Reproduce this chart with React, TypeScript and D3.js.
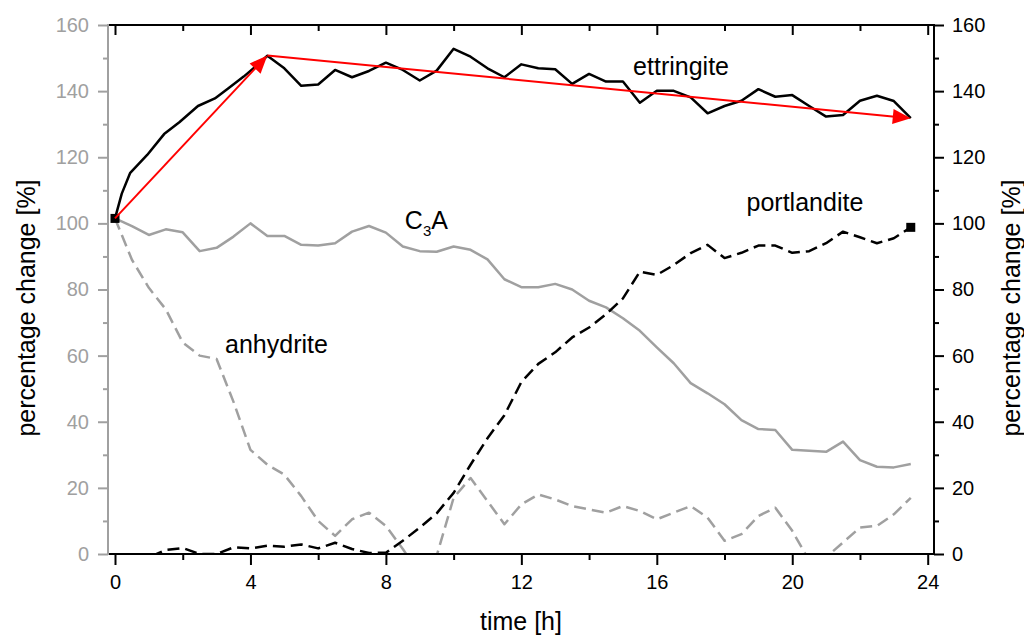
import { useEffect, useRef } from 'react';
import * as d3 from 'd3';

// time grid (h) shared by C3A, anhydrite and portlandite
const hours = [
  0, 0.5, 1, 1.5, 2, 2.5, 3, 3.5, 4, 4.5, 5, 5.5, 6, 6.5, 7, 7.5, 8, 8.5, 9, 9.5, 10, 10.5, 11, 11.5,
  12, 12.5, 13, 13.5, 14, 14.5, 15, 15.5, 16, 16.5, 17, 17.5, 18, 18.5, 19, 19.5, 20, 20.5, 21, 21.5,
  22, 22.5, 23, 23.5,
];

const c3a = [
  101.5, 99.2, 96.5, 98.2, 97.3, 91.6, 92.6, 96, 100, 96.2, 96.2, 93.5, 93.3, 94, 97.5, 99.2, 97.2, 93,
  91.6, 91.4, 93, 92, 89.1, 83.1, 80.7, 80.7, 81.7, 80, 76.6, 74.6, 71.3, 67.5, 62.5, 57.7, 51.7, 48.6,
  45.3, 40.5, 37.8, 37.5, 31.5, 31.2, 30.9, 34, 28.4, 26.4, 26.2, 27.2,
];

const anhydrite = [
  101.5, 89, 80.5, 74, 64, 60, 59, 46, 31.5, 27, 24, 17.5, 10, 5.5, 10.5, 12.5, 8.5, 1.5, -6, -0.5, 17,
  23, 16, 9, 15, 18, 16.5, 14.5, 13.5, 12.5, 14.5, 13, 10.5, 12.5, 14.5, 11, 4, 6, 11.5, 14, 7, -2, -1,
  3.5, 8, 8.5, 12, 17,
];

const portlandite = [
  -1, -1, -1, 1.2, 1.8, 0, 0, 2, 1.7, 2.5, 2.2, 2.9, 1.7, 3.4, 1.5, 0.3, 0.4, 4, 8, 12.3, 18.5, 27, 35,
  42, 52, 57.5, 61, 65.5, 68.5, 72.5, 77.3, 85.4, 84.4, 87.4, 91, 93.5, 89.5, 91.1, 93.3, 93.3, 91.1,
  91.6, 94, 97.5, 95.8, 94, 95.5, 98.8,
];

const ettringiteHours = [
  0, 0.2, 0.45, 0.95, 1.45, 1.9, 2.45, 2.95, 3.35, 3.8, 4.2, 4.5, 5, 5.5, 6, 6.5, 7, 7.5, 8, 8.5, 9, 9.5,
  10, 10.5, 11, 11.5, 12, 12.5, 13, 13.5, 14, 14.5, 15, 15.5, 16, 16.5, 17, 17.5, 18, 18.5, 19, 19.5, 20,
  20.5, 21, 21.5, 22, 22.5, 23, 23.5,
];

const ettringite = [
  101.5, 109, 115.3, 120.7, 127, 130.6, 135.5, 137.8, 140.9, 144.4, 147.9, 150.7, 146.9, 141.6, 142,
  146.4, 144.2, 146.1, 148.6, 146.4, 143.2, 146.2, 152.8, 150.4, 146.9, 144.2, 148.1, 146.9, 146.6,
  142.2, 145.2, 142.9, 142.9, 136.5, 140.1, 140.1, 138.1, 133.3, 135.5, 137.1, 140.6, 138.3, 138.8,
  135.5, 132.3, 132.8, 137.1, 138.6, 137, 131.8,
];

// red trend arrows: [from, to] in (h, %)
const arrows = [
  [[0, 101.5], [4.5, 150.8]],
  [[4.5, 150.8], [23.5, 131.8]],
];

const xTicks = [0, 4, 8, 12, 16, 20, 24];
const xMinor = [2, 6, 10, 14, 18, 22];
const yTicks = [0, 20, 40, 60, 80, 100, 120, 140, 160];
const yMinor = [10, 30, 50, 70, 90, 110, 130, 150];

const GRAY = '#a0a0a0';
const FONT = '"Liberation Sans", Arial, sans-serif';

export default function App() {
  const ref = useRef(null);

  useEffect(() => {
    document.body.style.margin = '0';
    const svg = d3.select(ref.current);
    svg.selectAll('*').remove();

    const left = 108;
    const right = 934;
    const top = 25;
    const bottom = 554;

    const x = d3.scaleLinear().domain([0, 24]).range([115, 927.7]);
    const y = d3.scaleLinear().domain([0, 160]).range([bottom, top]);

    svg.append('defs')
      .append('clipPath')
      .attr('id', 'plot')
      .append('rect')
      .attr('x', left)
      .attr('y', top)
      .attr('width', right - left)
      .attr('height', bottom - top);

    const plot = svg.append('g').attr('clip-path', 'url(#plot)');

    const line = d3.line().x((d) => x(d[0])).y((d) => y(d[1]));
    const pts = (ts, vs) => ts.map((t, i) => [t, vs[i]]);

    const series = [
      { data: pts(hours, anhydrite), color: GRAY, dash: '12,6' },
      { data: pts(hours, c3a), color: GRAY, dash: null },
      { data: pts(hours, portlandite), color: '#000', dash: '12,6' },
      { data: pts(ettringiteHours, ettringite), color: '#000', dash: null },
    ];

    series.forEach((s) => {
      plot.append('path')
        .attr('d', line(s.data))
        .attr('fill', 'none')
        .attr('stroke', s.color)
        .attr('stroke-width', 2.5)
        .attr('stroke-linejoin', 'round')
        .attr('stroke-dasharray', s.dash);
    });

    // square markers
    const squares = [
      [ettringiteHours[0], ettringite[0]],
      [hours[hours.length - 1], portlandite[portlandite.length - 1]],
    ];
    plot.selectAll('.sq')
      .data(squares)
      .enter()
      .append('rect')
      .attr('x', (d) => x(d[0]) - 4.5)
      .attr('y', (d) => y(d[1]) - 4.5)
      .attr('width', 9)
      .attr('height', 9)
      .attr('fill', '#000');

    // arrows
    arrows.forEach(([a, b]) => {
      const x1 = x(a[0]);
      const y1 = y(a[1]);
      const x2 = x(b[0]);
      const y2 = y(b[1]);
      const len = Math.hypot(x2 - x1, y2 - y1);
      const ux = (x2 - x1) / len;
      const uy = (y2 - y1) / len;
      const hl = 18;
      const hw = 7.5;
      const bx = x2 - ux * hl;
      const by = y2 - uy * hl;
      svg.append('line')
        .attr('x1', x1)
        .attr('y1', y1)
        .attr('x2', bx + ux * 2)
        .attr('y2', by + uy * 2)
        .attr('stroke', '#ff0000')
        .attr('stroke-width', 2);
      svg.append('polygon')
        .attr('points', `${x2},${y2} ${bx - uy * hw},${by + ux * hw} ${bx + uy * hw},${by - ux * hw}`)
        .attr('fill', '#ff0000');
    });

    // frame lines
    const frame = svg.append('g').attr('stroke-width', 2);
    frame.append('line').attr('x1', left).attr('x2', right).attr('y1', top).attr('y2', top).attr('stroke', '#000');
    frame.append('line').attr('x1', left).attr('x2', right + 1).attr('y1', bottom).attr('y2', bottom).attr('stroke', '#000');
    frame.append('line').attr('x1', right).attr('x2', right).attr('y1', top - 1).attr('y2', bottom + 1).attr('stroke', '#000');
    frame.append('line').attr('x1', left).attr('x2', left).attr('y1', top - 1).attr('y2', bottom + 1).attr('stroke', GRAY);

    const styleAxis = (g, color) => {
      g.select('.domain').remove();
      g.selectAll('line').attr('stroke', color).attr('stroke-width', 2);
      g.selectAll('text').attr('fill', color).attr('font-family', FONT).attr('font-size', 20);
    };

    // bottom axis
    svg.append('g')
      .attr('transform', `translate(0,${bottom})`)
      .call(d3.axisBottom(x).tickValues(xTicks).tickSize(11).tickPadding(10).tickFormat(d3.format('d')))
      .call((g) => styleAxis(g, '#000'));
    svg.append('g')
      .attr('transform', `translate(0,${bottom})`)
      .call(d3.axisBottom(x).tickValues(xMinor).tickSize(6).tickFormat(() => ''))
      .call((g) => styleAxis(g, '#000'));

    // top axis (inward ticks)
    svg.append('g')
      .attr('transform', `translate(0,${top})`)
      .call(d3.axisBottom(x).tickValues(xTicks).tickSize(10).tickFormat(() => ''))
      .call((g) => styleAxis(g, '#000'));
    svg.append('g')
      .attr('transform', `translate(0,${top})`)
      .call(d3.axisBottom(x).tickValues(xMinor).tickSize(6).tickFormat(() => ''))
      .call((g) => styleAxis(g, '#000'));

    // left axis
    svg.append('g')
      .attr('transform', `translate(${left},0)`)
      .call(d3.axisLeft(y).tickValues(yTicks).tickSize(10).tickPadding(9).tickFormat(d3.format('d')))
      .call((g) => styleAxis(g, GRAY));
    svg.append('g')
      .attr('transform', `translate(${left},0)`)
      .call(d3.axisLeft(y).tickValues(yMinor).tickSize(5).tickFormat(() => ''))
      .call((g) => styleAxis(g, GRAY));

    // right axis
    svg.append('g')
      .attr('transform', `translate(${right},0)`)
      .call(d3.axisRight(y).tickValues(yTicks).tickSize(10).tickPadding(8).tickFormat(d3.format('d')))
      .call((g) => styleAxis(g, '#000'));
    svg.append('g')
      .attr('transform', `translate(${right},0)`)
      .call(d3.axisRight(y).tickValues(yMinor).tickSize(5).tickFormat(() => ''))
      .call((g) => styleAxis(g, '#000'));

    const text = (px, py, str) =>
      svg.append('text')
        .attr('x', px)
        .attr('y', py)
        .attr('font-family', FONT)
        .attr('font-size', 25)
        .attr('fill', '#000')
        .text(str);

    // axis titles
    text(521, 630, 'time [h]').attr('text-anchor', 'middle');
    text(0, 0, 'percentage change [%]')
      .attr('text-anchor', 'middle')
      .attr('transform', 'translate(35,308) rotate(-90)');
    text(0, 0, 'percentage change [%]')
      .attr('text-anchor', 'middle')
      .attr('transform', 'translate(1020,308) rotate(-90)');

    // curve labels
    text(x(15.3), y(144.9), 'ettringite');
    text(x(18.65), y(103.8), 'portlandite');
    text(x(3.25), y(60.7), 'anhydrite');
    const c = text(x(8.56), y(98.3), 'C');
    c.append('tspan').attr('font-size', 15).attr('dy', 7).text('3');
    c.append('tspan').attr('font-size', 25).attr('dy', -7).text('A');
  }, []);

  return <svg ref={ref} width={1024} height={635} style={{ display: 'block', background: '#fff' }} />;
}
